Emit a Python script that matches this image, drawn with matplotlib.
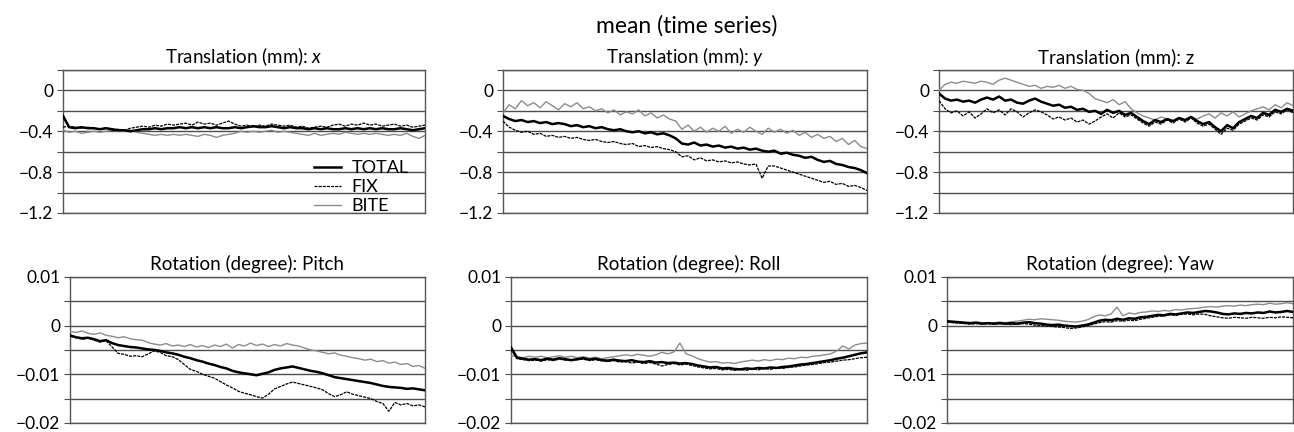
import matplotlib
matplotlib.use('Agg')
import matplotlib.pyplot as plt
from matplotlib.ticker import MultipleLocator, FuncFormatter

plt.rcParams['font.family'] = ['Lato', 'DejaVu Sans']
plt.rcParams['mathtext.fontset'] = 'custom'
plt.rcParams['mathtext.it'] = 'Lato:italic'
plt.rcParams['mathtext.rm'] = 'Lato'

# --- data (60 samples per series) ---
tx_total = [-0.25, -0.36, -0.37, -0.36, -0.37, -0.37, -0.38, -0.37, -0.38, -0.39, -0.39, -0.40, -0.39, -0.38, -0.38,
            -0.37, -0.38, -0.37, -0.37, -0.36, -0.37, -0.36, -0.37, -0.36, -0.37, -0.36, -0.37, -0.37, -0.36, -0.37,
            -0.36, -0.35, -0.36, -0.36, -0.35, -0.36, -0.37, -0.36, -0.37, -0.37, -0.38, -0.37, -0.38, -0.37, -0.38,
            -0.38, -0.37, -0.38, -0.37, -0.38, -0.37, -0.38, -0.37, -0.38, -0.38, -0.37, -0.38, -0.39, -0.38, -0.37]
tx_fix = [-0.36, -0.35, -0.36, -0.37, -0.36, -0.37, -0.38, -0.37, -0.39, -0.38, -0.39, -0.37, -0.36, -0.35, -0.36,
          -0.34, -0.35, -0.33, -0.34, -0.33, -0.32, -0.34, -0.31, -0.33, -0.32, -0.34, -0.32, -0.30, -0.33, -0.35,
          -0.34, -0.36, -0.34, -0.35, -0.33, -0.34, -0.35, -0.34, -0.36, -0.35, -0.37, -0.36, -0.35, -0.36, -0.34,
          -0.33, -0.35, -0.33, -0.34, -0.32, -0.34, -0.33, -0.35, -0.34, -0.33, -0.35, -0.34, -0.36, -0.35, -0.34]
tx_bite = [-0.39, -0.41, -0.40, -0.42, -0.41, -0.40, -0.41, -0.40, -0.39, -0.40, -0.40, -0.39, -0.41, -0.42, -0.43,
           -0.44, -0.43, -0.44, -0.43, -0.44, -0.43, -0.44, -0.45, -0.43, -0.44, -0.46, -0.44, -0.43, -0.42, -0.40,
           -0.41, -0.40, -0.41, -0.40, -0.39, -0.41, -0.40, -0.41, -0.42, -0.43, -0.44, -0.42, -0.44, -0.43, -0.42,
           -0.43, -0.41, -0.42, -0.43, -0.42, -0.43, -0.42, -0.43, -0.44, -0.43, -0.44, -0.42, -0.45, -0.47, -0.44]

ty_total = [-0.25, -0.28, -0.30, -0.29, -0.31, -0.30, -0.32, -0.31, -0.33, -0.32, -0.33, -0.35, -0.34, -0.36, -0.35,
            -0.37, -0.36, -0.38, -0.39, -0.38, -0.40, -0.41, -0.40, -0.42, -0.41, -0.43, -0.42, -0.44, -0.47, -0.52,
            -0.53, -0.51, -0.54, -0.53, -0.55, -0.54, -0.56, -0.55, -0.57, -0.56, -0.58, -0.57, -0.59, -0.60, -0.59,
            -0.62, -0.61, -0.63, -0.64, -0.66, -0.65, -0.68, -0.70, -0.69, -0.72, -0.73, -0.75, -0.76, -0.78, -0.81]
ty_fix = [-0.30, -0.36, -0.39, -0.41, -0.40, -0.43, -0.42, -0.45, -0.44, -0.46, -0.45, -0.47, -0.46, -0.48, -0.49,
          -0.48, -0.50, -0.51, -0.50, -0.52, -0.53, -0.52, -0.55, -0.54, -0.56, -0.55, -0.57, -0.58, -0.60, -0.65,
          -0.64, -0.68, -0.66, -0.69, -0.68, -0.70, -0.69, -0.71, -0.70, -0.72, -0.73, -0.72, -0.86, -0.74, -0.74,
          -0.76, -0.78, -0.80, -0.82, -0.84, -0.86, -0.88, -0.90, -0.89, -0.92, -0.91, -0.94, -0.93, -0.95, -0.98]
ty_bite = [-0.22, -0.14, -0.18, -0.10, -0.15, -0.12, -0.17, -0.11, -0.15, -0.19, -0.13, -0.16, -0.12, -0.18, -0.16,
           -0.20, -0.18, -0.22, -0.19, -0.24, -0.21, -0.23, -0.19, -0.25, -0.22, -0.27, -0.24, -0.28, -0.30, -0.38,
           -0.34, -0.40, -0.36, -0.41, -0.37, -0.40, -0.35, -0.42, -0.38, -0.41, -0.36, -0.40, -0.43, -0.37, -0.41,
           -0.38, -0.42, -0.39, -0.44, -0.41, -0.46, -0.43, -0.47, -0.45, -0.50, -0.47, -0.53, -0.49, -0.55, -0.57]

tz_total = [-0.03, -0.08, -0.10, -0.09, -0.11, -0.10, -0.12, -0.09, -0.07, -0.09, -0.06, -0.10, -0.09, -0.12, -0.13,
            -0.10, -0.08, -0.11, -0.13, -0.15, -0.14, -0.17, -0.16, -0.19, -0.18, -0.21, -0.20, -0.23, -0.19, -0.22,
            -0.20, -0.24, -0.22, -0.26, -0.30, -0.33, -0.29, -0.31, -0.28, -0.30, -0.27, -0.29, -0.26, -0.30, -0.33,
            -0.31, -0.36, -0.40, -0.34, -0.37, -0.31, -0.28, -0.25, -0.27, -0.22, -0.24, -0.19, -0.21, -0.18, -0.20]
tz_fix = [-0.10, -0.18, -0.22, -0.20, -0.25, -0.21, -0.27, -0.23, -0.18, -0.22, -0.19, -0.24, -0.18, -0.21, -0.26,
          -0.22, -0.19, -0.21, -0.24, -0.28, -0.26, -0.29, -0.27, -0.31, -0.29, -0.33, -0.30, -0.26, -0.23, -0.27,
          -0.22, -0.26, -0.24, -0.28, -0.32, -0.35, -0.31, -0.33, -0.29, -0.32, -0.28, -0.31, -0.27, -0.32, -0.35,
          -0.33, -0.38, -0.43, -0.37, -0.39, -0.33, -0.30, -0.27, -0.29, -0.24, -0.26, -0.21, -0.23, -0.19, -0.22]
tz_bite = [0.00, 0.06, 0.08, 0.07, 0.09, 0.08, 0.07, 0.09, 0.08, 0.06, 0.10, 0.12, 0.10, 0.08, 0.06,
           0.04, 0.05, 0.02, 0.04, 0.03, 0.05, 0.02, 0.04, 0.01, 0.00, -0.03, -0.08, -0.10, -0.12, -0.09,
           -0.14, -0.11, -0.18, -0.22, -0.25, -0.27, -0.29, -0.26, -0.28, -0.30, -0.27, -0.29, -0.26, -0.28, -0.25,
           -0.23, -0.27, -0.22, -0.25, -0.21, -0.26, -0.23, -0.20, -0.18, -0.16, -0.19, -0.14, -0.17, -0.12, -0.15]

pitch_total = [-0.0020, -0.0024, -0.0026, -0.0025, -0.0028, -0.0032, -0.0030, -0.0036, -0.0040, -0.0042, -0.0044,
               -0.0045, -0.0047, -0.0049, -0.0050, -0.0052, -0.0055, -0.0057, -0.0060, -0.0064, -0.0067, -0.0071,
               -0.0074, -0.0078, -0.0081, -0.0085, -0.0088, -0.0093, -0.0096, -0.0098, -0.0100, -0.0102, -0.0099,
               -0.0096, -0.0091, -0.0088, -0.0086, -0.0084, -0.0087, -0.0090, -0.0093, -0.0095, -0.0098, -0.0102,
               -0.0106, -0.0108, -0.0110, -0.0112, -0.0114, -0.0116, -0.0118, -0.0121, -0.0124, -0.0126, -0.0127,
               -0.0128, -0.0130, -0.0129, -0.0131, -0.0133]
pitch_fix = [-0.0022, -0.0025, -0.0028, -0.0026, -0.0030, -0.0034, -0.0031, -0.0044, -0.0057, -0.0059, -0.0063,
             -0.0062, -0.0064, -0.0058, -0.0052, -0.0055, -0.0062, -0.0064, -0.0070, -0.0080, -0.0090, -0.0094,
             -0.0100, -0.0104, -0.0108, -0.0115, -0.0122, -0.0128, -0.0135, -0.0139, -0.0142, -0.0146, -0.0149,
             -0.0141, -0.0130, -0.0125, -0.0120, -0.0116, -0.0119, -0.0122, -0.0125, -0.0128, -0.0132, -0.0140,
             -0.0146, -0.0142, -0.0136, -0.0141, -0.0144, -0.0147, -0.0150, -0.0156, -0.0160, -0.0176, -0.0158,
             -0.0163, -0.0160, -0.0165, -0.0163, -0.0167]
pitch_bite = [-0.0012, -0.0014, -0.0011, -0.0016, -0.0018, -0.0015, -0.0020, -0.0022, -0.0025, -0.0023, -0.0027,
              -0.0029, -0.0030, -0.0035, -0.0038, -0.0040, -0.0037, -0.0042, -0.0040, -0.0043, -0.0039, -0.0044,
              -0.0041, -0.0045, -0.0040, -0.0043, -0.0038, -0.0046, -0.0039, -0.0042, -0.0036, -0.0041, -0.0038,
              -0.0043, -0.0039, -0.0042, -0.0037, -0.0040, -0.0042, -0.0046, -0.0050, -0.0052, -0.0055, -0.0058,
              -0.0056, -0.0061, -0.0063, -0.0066, -0.0068, -0.0071, -0.0069, -0.0074, -0.0072, -0.0077, -0.0075,
              -0.0080, -0.0078, -0.0084, -0.0082, -0.0088]

roll_total = [-0.0045, -0.0066, -0.0068, -0.0070, -0.0069, -0.0071, -0.0068, -0.0070, -0.0067, -0.0069, -0.0071,
              -0.0069, -0.0067, -0.0070, -0.0068, -0.0071, -0.0072, -0.0070, -0.0072, -0.0073, -0.0071, -0.0074,
              -0.0075, -0.0073, -0.0076, -0.0075, -0.0077, -0.0076, -0.0078, -0.0077, -0.0079, -0.0082, -0.0084,
              -0.0086, -0.0085, -0.0088, -0.0087, -0.0089, -0.0090, -0.0088, -0.0089, -0.0087, -0.0088, -0.0086,
              -0.0087, -0.0085, -0.0084, -0.0082, -0.0080, -0.0079, -0.0077, -0.0075, -0.0073, -0.0071, -0.0068,
              -0.0066, -0.0063, -0.0060, -0.0057, -0.0055]
roll_fix = [-0.0050, -0.0068, -0.0070, -0.0072, -0.0071, -0.0073, -0.0070, -0.0072, -0.0069, -0.0071, -0.0072,
            -0.0070, -0.0069, -0.0072, -0.0070, -0.0072, -0.0074, -0.0072, -0.0075, -0.0074, -0.0077, -0.0075,
            -0.0078, -0.0076, -0.0079, -0.0083, -0.0080, -0.0078, -0.0081, -0.0079, -0.0082, -0.0085, -0.0087,
            -0.0089, -0.0088, -0.0091, -0.0090, -0.0092, -0.0090, -0.0092, -0.0089, -0.0091, -0.0088, -0.0090,
            -0.0087, -0.0088, -0.0086, -0.0085, -0.0083, -0.0081, -0.0080, -0.0078, -0.0076, -0.0075, -0.0073,
            -0.0071, -0.0070, -0.0068, -0.0066, -0.0065]
roll_bite = [-0.0062, -0.0064, -0.0066, -0.0063, -0.0065, -0.0063, -0.0066, -0.0064, -0.0062, -0.0065, -0.0063,
             -0.0066, -0.0064, -0.0067, -0.0065, -0.0068, -0.0066, -0.0064, -0.0062, -0.0060, -0.0062, -0.0059,
             -0.0061, -0.0063, -0.0060, -0.0055, -0.0058, -0.0054, -0.0036, -0.0058, -0.0062, -0.0068, -0.0072,
             -0.0075, -0.0074, -0.0077, -0.0076, -0.0078, -0.0075, -0.0073, -0.0071, -0.0073, -0.0070, -0.0072,
             -0.0069, -0.0070, -0.0067, -0.0068, -0.0065, -0.0066, -0.0063, -0.0062, -0.0060, -0.0058, -0.0052,
             -0.0042, -0.0048, -0.0040, -0.0037, -0.0036]

yaw_total = [0.0009, 0.0008, 0.0007, 0.0006, 0.0005, 0.0006, 0.0004, 0.0005, 0.0004, 0.0005, 0.0004, 0.0005,
             0.0004, 0.0006, 0.0007, 0.0005, 0.0004, 0.0002, 0.0001, 0.0002, 0.0000, -0.0001, -0.0002, 0.0000,
             0.0002, 0.0006, 0.0010, 0.0012, 0.0011, 0.0014, 0.0012, 0.0015, 0.0014, 0.0017, 0.0018, 0.0020,
             0.0022, 0.0021, 0.0024, 0.0023, 0.0025, 0.0027, 0.0026, 0.0028, 0.0030, 0.0029, 0.0027, 0.0024,
             0.0023, 0.0025, 0.0024, 0.0026, 0.0025, 0.0027, 0.0026, 0.0029, 0.0027, 0.0028, 0.0030, 0.0028]
yaw_fix = [0.0008, 0.0006, 0.0005, 0.0004, 0.0003, 0.0004, 0.0003, 0.0004, 0.0003, 0.0004, 0.0003, 0.0002,
           0.0003, 0.0004, 0.0003, 0.0001, 0.0000, -0.0001, -0.0002, -0.0003, -0.0004, -0.0006, -0.0005, -0.0003,
           0.0000, 0.0003, 0.0006, 0.0008, 0.0007, 0.0010, 0.0009, 0.0011, 0.0010, 0.0013, 0.0015, 0.0017,
           0.0019, 0.0020, 0.0022, 0.0021, 0.0023, 0.0024, 0.0022, 0.0024, 0.0023, 0.0020, 0.0018, 0.0016,
           0.0015, 0.0017, 0.0016, 0.0015, 0.0017, 0.0016, 0.0015, 0.0017, 0.0016, 0.0018, 0.0017, 0.0016]
yaw_bite = [0.0007, 0.0006, 0.0007, 0.0005, 0.0006, 0.0007, 0.0006, 0.0005, 0.0006, 0.0007, 0.0006, 0.0008,
            0.0009, 0.0011, 0.0013, 0.0012, 0.0014, 0.0013, 0.0012, 0.0011, 0.0009, 0.0008, 0.0007, 0.0009,
            0.0012, 0.0018, 0.0022, 0.0020, 0.0024, 0.0038, 0.0020, 0.0026, 0.0024, 0.0027, 0.0028, 0.0030,
            0.0029, 0.0031, 0.0030, 0.0033, 0.0032, 0.0034, 0.0035, 0.0036, 0.0038, 0.0039, 0.0038, 0.0040,
            0.0041, 0.0040, 0.0042, 0.0041, 0.0043, 0.0044, 0.0043, 0.0046, 0.0044, 0.0045, 0.0047, 0.0045]

titles = ['Translation (mm): $x$', 'Translation (mm): $y$', 'Translation (mm): z',
          'Rotation (degree): Pitch', 'Rotation (degree): Roll', 'Rotation (degree): Yaw']
series = [(tx_total, tx_fix, tx_bite), (ty_total, ty_fix, ty_bite), (tz_total, tz_fix, tz_bite),
          (pitch_total, pitch_fix, pitch_bite), (roll_total, roll_fix, roll_bite), (yaw_total, yaw_fix, yaw_bite)]

# axes boxes in figure fractions [left, bottom, width, height]
boxes = [[0.0487, 0.507, 0.2798, 0.331], [0.3887, 0.507, 0.2813, 0.331], [0.7257, 0.507, 0.2736, 0.331],
         [0.0541, 0.021, 0.2743, 0.338], [0.3949, 0.021, 0.2751, 0.338], [0.7318, 0.021, 0.2674, 0.338]]


def minus_fmt(v, pos):
    s = '%g' % round(v, 6)
    return s.replace('-', '\u2212')


fig = plt.figure(figsize=(12.94, 4.32), dpi=100)
grid_col = '#4d4d4d'

for k, (title, (tot, fix, bite), box) in enumerate(zip(titles, series, boxes)):
    ax = fig.add_axes(box)
    x = range(len(tot))
    ax.plot(x, bite, color='#8c8c8c', linewidth=1.0, label='BITE', zorder=3)
    ax.plot(x, fix, color='black', linewidth=0.9, linestyle=(0, (2.5, 0.8)), label='FIX', zorder=4)
    ax.plot(x, tot, color='black', linewidth=1.8, label='TOTAL', zorder=5)
    ax.set_xlim(0, len(tot) - 1)
    if k < 3:
        ax.set_ylim(-1.2, 0.2)
        ax.yaxis.set_major_locator(MultipleLocator(0.4))
        ax.yaxis.set_minor_locator(MultipleLocator(0.2))
    else:
        ax.set_ylim(-0.02, 0.01)
        ax.yaxis.set_major_locator(MultipleLocator(0.01))
        ax.yaxis.set_minor_locator(MultipleLocator(0.005))
    ax.yaxis.set_major_formatter(FuncFormatter(minus_fmt))
    ax.set_xticks([])
    ax.grid(True, axis='y', which='both', color=grid_col, linewidth=1.0, zorder=1)
    ax.set_axisbelow(True)
    ax.tick_params(axis='y', which='both', length=4, width=0.8, color=grid_col,
                   labelsize=12.5, pad=3, direction='out')
    for s in ax.spines.values():
        s.set_color('#555555')
        s.set_linewidth(1.0)
    ax.set_title(title, fontsize=13.5, pad=5)
    if k == 0:
        h, l = ax.get_legend_handles_labels()
        ax.legend(h[::-1], l[::-1], loc='lower right', bbox_to_anchor=(0.955, -0.01), frameon=False,
                  fontsize=13, handlelength=1.5, handletextpad=0.6, labelspacing=0.18, borderpad=0.0,
                  borderaxespad=0.0)

fig.text(0.531, 0.94, 'mean (time series)', ha='center', va='center', fontsize=16.5)

fig.savefig('out.png', dpi=100)
